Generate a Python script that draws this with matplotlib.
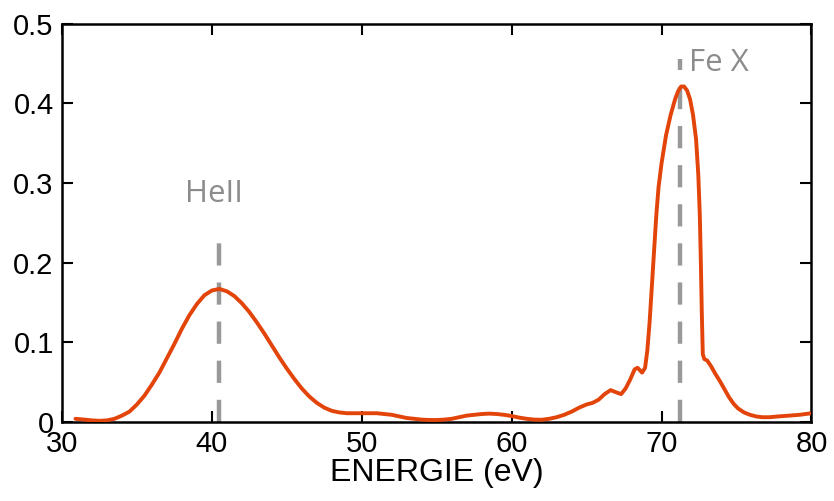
import matplotlib
matplotlib.use("Agg")
import matplotlib.pyplot as plt

energy = [30.9, 31.5, 32.0, 32.5, 33.0, 33.5, 34.0, 34.5, 35.0, 35.5, 36.0, 36.5, 37.0, 37.5,
          38.0, 38.5, 39.0, 39.5, 40.0, 40.5, 41.0, 41.5, 42.0, 42.5, 43.0, 43.5, 44.0, 44.5,
          45.0, 45.5, 46.0, 46.5, 47.0, 47.5, 48.0, 48.5, 49.0, 49.5, 50.0, 50.5, 51.0, 51.5,
          52.0, 52.5, 53.0, 53.5, 54.0, 54.5, 55.0, 55.5, 56.0, 56.5, 57.0, 57.5, 58.0, 58.5,
          59.0, 59.5, 60.0, 60.5, 61.0, 61.5, 62.0, 62.5, 63.0, 63.5, 64.0, 64.5, 65.0, 65.4,
          65.8, 66.2, 66.6, 67.0, 67.3, 67.6, 67.9, 68.2, 68.4, 68.7, 68.9, 69.05, 69.2, 69.35,
          69.5, 69.65, 69.8, 70.0, 70.3, 70.6, 70.9, 71.1, 71.3, 71.5, 71.7, 71.9, 72.1, 72.3,
          72.45, 72.55, 72.62, 72.68, 72.75, 72.85, 73.05, 73.3, 73.6, 73.9, 74.2, 74.5, 74.8,
          75.1, 75.5, 75.9, 76.3, 76.7, 77.2, 77.8, 78.5, 79.2, 80.0]
intensity = [0.004, 0.003, 0.002, 0.0015, 0.002, 0.004, 0.008, 0.013, 0.022, 0.033, 0.047,
             0.062, 0.080, 0.098, 0.117, 0.134, 0.148, 0.159, 0.165, 0.167, 0.164, 0.158, 0.149,
             0.138, 0.125, 0.111, 0.096, 0.081, 0.067, 0.054, 0.042, 0.032, 0.024, 0.018, 0.014,
             0.012, 0.011, 0.011, 0.011, 0.011, 0.011, 0.010, 0.009, 0.007, 0.005, 0.004, 0.003,
             0.0025, 0.0025, 0.003, 0.004, 0.006, 0.008, 0.009, 0.010, 0.0105, 0.010, 0.009,
             0.0075, 0.0055, 0.004, 0.003, 0.0028, 0.004, 0.006, 0.009, 0.013, 0.018, 0.022,
             0.024, 0.028, 0.035, 0.040, 0.037, 0.035, 0.042, 0.053, 0.066, 0.068, 0.062, 0.068,
             0.090, 0.125, 0.17, 0.215, 0.26, 0.295, 0.325, 0.360, 0.385, 0.405, 0.415, 0.421,
             0.421, 0.416, 0.405, 0.385, 0.355, 0.31, 0.26, 0.20, 0.14, 0.085, 0.079, 0.077,
             0.070, 0.060, 0.051, 0.041, 0.031, 0.023, 0.017, 0.012, 0.009, 0.007, 0.006, 0.006,
             0.007, 0.008, 0.009, 0.011]

line_names = ["HeII", "Fe X"]
line_pos = [40.5, 71.2]
line_top = [0.245, 0.455]
label_xy = [(40.13, 0.276), (71.8, 0.44)]

x_ticks = [30, 40, 50, 60, 70, 80]
y_ticks = [0, 0.1, 0.2, 0.3, 0.4, 0.5]
y_ticklabels = ["0", "0.1", "0.2", "0.3", "0.4", "0.5"]

fig = plt.figure(figsize=(8.34, 5.01), dpi=100)
ax = fig.add_axes([0.0743, 0.1577, 0.8987, 0.7953])

for xp, yt in zip(line_pos, line_top):
    ax.plot([xp, xp], [0, yt], color="#999999", lw=3.2, dashes=(5.0, 3.8), zorder=2)

ax.plot(energy, intensity, color="#E2440A", lw=2.8, zorder=3,
        solid_capstyle="round", solid_joinstyle="round")

ax.text(label_xy[0][0], label_xy[0][1], line_names[0], color="#8c8c8c", fontsize=22.5,
        family="Open Sans", ha="center", va="baseline")
ax.text(label_xy[1][0], label_xy[1][1], line_names[1], color="#8c8c8c", fontsize=22.5,
        family="Open Sans", ha="left", va="baseline")

ax.set_xlim(30, 80)
ax.set_ylim(0, 0.5)
ax.set_xticks(x_ticks)
ax.set_yticks(y_ticks)
ax.set_yticklabels(y_ticklabels)
ax.tick_params(direction="in", length=8, width=1.5, top=True, right=True,
               labelsize=21, pad=6)
for lab in ax.get_xticklabels() + ax.get_yticklabels():
    lab.set_family("Liberation Sans")
for s in ax.spines.values():
    s.set_linewidth(1.8)
ax.set_xlabel("ENERGIE (eV)", fontsize=23, family="Liberation Sans", labelpad=0)

fig.savefig("out.png", dpi=100)
